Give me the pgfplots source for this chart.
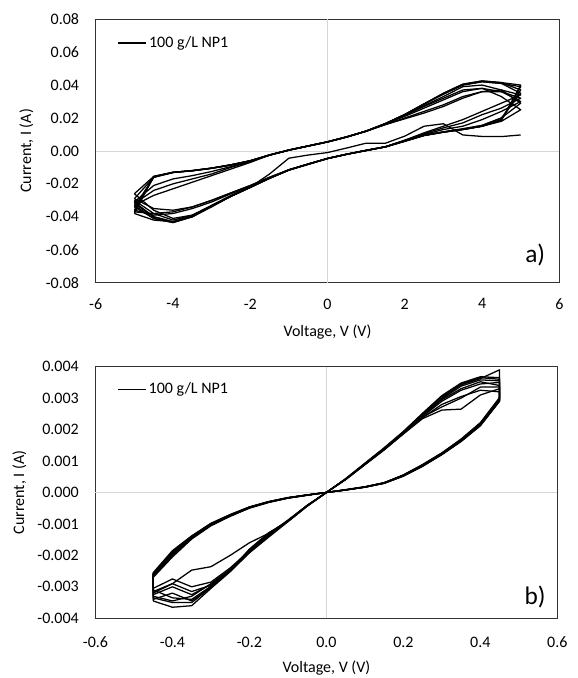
\documentclass[border=0pt]{standalone}
\usepackage{fontspec}
\setmainfont{Carlito}
\usepackage{pgfplots}
\usepackage{pgfplotstable}
\pgfplotsset{compat=1.18}

% panel a: cycles -5 -> 5 -> -5, one column per cycle
\pgfplotstableread{
V c1 c2 c3 c4 c5 c6 c7 c8 c9
-5 -0.0300 -0.0260 -0.0290 -0.0320 -0.0340 -0.0360 -0.0310 -0.0370 -0.0330
-4.5 -0.0380 -0.0360 -0.0350 -0.0400 -0.0410 -0.0390 -0.0400 -0.0380 -0.0410
-4 -0.0420 -0.0410 -0.0360 -0.0430 -0.0435 -0.0380 -0.0430 -0.0370 -0.0435
-3.5 -0.0390 -0.0390 -0.0340 -0.0395 -0.0400 -0.0350 -0.0400 -0.0340 -0.0400
-3 -0.0330 -0.0335 -0.0300 -0.0335 -0.0336 -0.0310 -0.0340 -0.0300 -0.0335
-2.5 -0.0270 -0.0275 -0.0255 -0.0275 -0.0276 -0.0260 -0.0275 -0.0255 -0.0275
-2 -0.0220 -0.0222 -0.0210 -0.0221 -0.0222 -0.0215 -0.0220 -0.0210 -0.0220
-1.5 -0.0165 -0.0167 -0.0160 -0.0166 -0.0166 -0.0165 -0.0165 -0.0160 -0.0165
-1 -0.0115 -0.0117 -0.0114 -0.0116 -0.0116 -0.0115 -0.0115 -0.0115 -0.0115
-0.5 -0.0080 -0.0082 -0.0079 -0.0081 -0.0080 -0.0080 -0.0080 -0.0080 -0.0080
0 -0.0046 -0.0047 -0.0045 -0.0046 -0.0046 -0.0046 -0.0046 -0.0046 -0.0046
0.5 -0.0020 -0.0021 -0.0019 -0.0020 -0.0020 -0.0020 -0.0020 -0.0020 -0.0020
1 0.0003 0.0002 0.0004 0.0003 0.0003 0.0003 0.0003 0.0003 0.0003
1.5 0.0025 0.0024 0.0026 0.0025 0.0025 0.0025 0.0025 0.0025 0.0025
2 0.0060 0.0058 0.0065 0.0061 0.0060 0.0060 0.0060 0.0065 0.0060
2.5 0.0095 0.0093 0.0105 0.0096 0.0094 0.0100 0.0095 0.0110 0.0095
3 0.0115 0.0113 0.0140 0.0116 0.0114 0.0130 0.0115 0.0150 0.0115
3.5 0.0130 0.0132 0.0170 0.0135 0.0130 0.0150 0.0130 0.0190 0.0130
4 0.0150 0.0155 0.0220 0.0155 0.0150 0.0190 0.0150 0.0240 0.0150
4.5 0.0180 0.0200 0.0260 0.0200 0.0190 0.0240 0.0190 0.0290 0.0185
5 0.0250 0.0290 0.0320 0.0350 0.0370 0.0300 0.0390 0.0340 0.0400
4.5 0.0330 0.0370 0.0360 0.0410 0.0415 0.0360 0.0410 0.0370 0.0415
4 0.0380 0.0400 0.0360 0.0420 0.0425 0.0380 0.0420 0.0360 0.0425
3.5 0.0370 0.0390 0.0330 0.0400 0.0405 0.0360 0.0400 0.0320 0.0405
3 0.0320 0.0330 0.0280 0.0345 0.0350 0.0310 0.0345 0.0270 0.0350
2.5 0.0270 0.0275 0.0240 0.0285 0.0286 0.0260 0.0285 0.0230 0.0285
2 0.0215 0.0220 0.0200 0.0221 0.0222 0.0210 0.0220 0.0195 0.0220
1.5 0.0165 0.0167 0.0160 0.0166 0.0166 0.0165 0.0165 0.0160 0.0165
1 0.0120 0.0121 0.0119 0.0121 0.0120 0.0120 0.0120 0.0120 0.0120
0.5 0.0085 0.0086 0.0084 0.0086 0.0085 0.0085 0.0085 0.0085 0.0085
0 0.0055 0.0056 0.0054 0.0055 0.0055 0.0055 0.0055 0.0055 0.0055
-0.5 0.0030 0.0031 0.0029 0.0030 0.0030 0.0030 0.0030 0.0030 0.0030
-1 0.0005 0.0006 0.0004 0.0005 0.0005 0.0005 0.0005 0.0005 0.0005
-1.5 -0.0025 -0.0024 -0.0026 -0.0025 -0.0025 -0.0025 -0.0025 -0.0025 -0.0025
-2 -0.0060 -0.0059 -0.0065 -0.0061 -0.0060 -0.0065 -0.0060 -0.0070 -0.0060
-2.5 -0.0085 -0.0084 -0.0100 -0.0086 -0.0085 -0.0095 -0.0085 -0.0110 -0.0085
-3 -0.0105 -0.0104 -0.0140 -0.0106 -0.0105 -0.0125 -0.0105 -0.0150 -0.0105
-3.5 -0.0120 -0.0119 -0.0170 -0.0121 -0.0120 -0.0150 -0.0120 -0.0190 -0.0120
-4 -0.0130 -0.0131 -0.0200 -0.0131 -0.0130 -0.0170 -0.0130 -0.0230 -0.0130
-4.5 -0.0155 -0.0160 -0.0240 -0.0160 -0.0160 -0.0210 -0.0155 -0.0270 -0.0155
-5 -0.0260 -0.0290 -0.0320 -0.0340 -0.0360 -0.0310 -0.0370 -0.0330 -0.0380
}\cyclesA

% panel b: cycles -0.45 -> 0.45 -> -0.45
\pgfplotstableread{
V b1 b2 b3 b4 b5 b6 b7 b8 b9
-0.45 -0.00300 -0.00330 -0.00305 -0.00340 -0.00315 -0.00345 -0.00325 -0.00310 -0.00335
-0.45 -0.00262 -0.00255 -0.00258 -0.00265 -0.00260 -0.00270 -0.00258 -0.00262 -0.00268
-0.4 -0.00190 -0.00185 -0.00195 -0.00200 -0.00188 -0.00205 -0.00192 -0.00196 -0.00198
-0.35 -0.00140 -0.00138 -0.00142 -0.00145 -0.00139 -0.00148 -0.00141 -0.00143 -0.00144
-0.3 -0.00100 -0.00098 -0.00102 -0.00104 -0.00099 -0.00106 -0.00101 -0.00103 -0.00103
-0.25 -0.00072 -0.00070 -0.00073 -0.00074 -0.00071 -0.00076 -0.00072 -0.00073 -0.00074
-0.2 -0.00047 -0.00046 -0.00048 -0.00049 -0.00046 -0.00050 -0.00047 -0.00048 -0.00048
-0.15 -0.00030 -0.00029 -0.00030 -0.00031 -0.00029 -0.00032 -0.00030 -0.00030 -0.00031
-0.1 -0.00017 -0.00016 -0.00017 -0.00018 -0.00017 -0.00018 -0.00017 -0.00017 -0.00018
-0.05 -0.00008 -0.00008 -0.00008 -0.00009 -0.00008 -0.00009 -0.00008 -0.00008 -0.00008
0 0.00000 0.00000 0.00000 0.00000 0.00000 0.00000 0.00000 0.00000 0.00000
0.05 0.00008 0.00008 0.00008 0.00008 0.00009 0.00008 0.00009 0.00008 0.00008
0.1 0.00017 0.00018 0.00017 0.00017 0.00018 0.00017 0.00018 0.00017 0.00017
0.15 0.00030 0.00031 0.00029 0.00030 0.00031 0.00029 0.00031 0.00030 0.00030
0.2 0.00053 0.00055 0.00052 0.00054 0.00054 0.00052 0.00056 0.00053 0.00055
0.25 0.00085 0.00088 0.00083 0.00086 0.00086 0.00084 0.00089 0.00085 0.00087
0.3 0.00122 0.00125 0.00120 0.00124 0.00123 0.00121 0.00126 0.00122 0.00124
0.35 0.00165 0.00168 0.00162 0.00166 0.00165 0.00163 0.00170 0.00164 0.00167
0.4 0.00215 0.00220 0.00212 0.00218 0.00216 0.00213 0.00222 0.00214 0.00219
0.45 0.00292 0.00300 0.00290 0.00296 0.00294 0.00291 0.00302 0.00293 0.00298
0.45 0.00340 0.00360 0.00330 0.00350 0.00390 0.00320 0.00365 0.00335 0.00355
0.4 0.00352 0.00365 0.00310 0.00345 0.00362 0.00325 0.00368 0.00335 0.00358
0.35 0.00330 0.00345 0.00265 0.00325 0.00342 0.00305 0.00348 0.00300 0.00338
0.3 0.00295 0.00300 0.00262 0.00290 0.00305 0.00280 0.00308 0.00272 0.00298
0.25 0.00245 0.00248 0.00235 0.00242 0.00250 0.00238 0.00252 0.00240 0.00246
0.2 0.00190 0.00192 0.00186 0.00189 0.00193 0.00187 0.00194 0.00188 0.00191
0.15 0.00138 0.00140 0.00135 0.00137 0.00141 0.00136 0.00142 0.00137 0.00139
0.1 0.00090 0.00092 0.00088 0.00090 0.00092 0.00089 0.00093 0.00089 0.00091
0.05 0.00042 0.00043 0.00041 0.00042 0.00043 0.00041 0.00044 0.00042 0.00042
0 0.00000 0.00000 0.00000 0.00000 0.00000 0.00000 0.00000 0.00000 0.00000
-0.05 -0.00042 -0.00043 -0.00041 -0.00042 -0.00044 -0.00041 -0.00043 -0.00042 -0.00042
-0.1 -0.00090 -0.00092 -0.00088 -0.00091 -0.00093 -0.00089 -0.00092 -0.00090 -0.00090
-0.15 -0.00138 -0.00135 -0.00132 -0.00140 -0.00142 -0.00136 -0.00128 -0.00139 -0.00130
-0.2 -0.00188 -0.00185 -0.00182 -0.00190 -0.00192 -0.00186 -0.00180 -0.00189 -0.00160
-0.25 -0.00245 -0.00240 -0.00250 -0.00248 -0.00252 -0.00245 -0.00248 -0.00250 -0.00200
-0.3 -0.00290 -0.00285 -0.00300 -0.00295 -0.00305 -0.00292 -0.00298 -0.00302 -0.00236
-0.35 -0.00330 -0.00300 -0.00345 -0.00315 -0.00360 -0.00325 -0.00340 -0.00350 -0.00247
-0.4 -0.00345 -0.00275 -0.00320 -0.00290 -0.00365 -0.00300 -0.00335 -0.00350 -0.00290
-0.45 -0.00330 -0.00305 -0.00340 -0.00315 -0.00345 -0.00325 -0.00310 -0.00335 -0.00320
}\cyclesB

\pgfplotsset{
  ivline/.style={black, line width=0.95pt, mark=none, line join=round},
  ivpanel/.style={
    scale only axis,
    /pgf/number format/assume math mode=true,
    scaled ticks=false,
    axis line style={black!80, line width=0.6pt},
    major tick length=0pt,
    tick label style={font=\fontsize{12}{14}\selectfont},
    yticklabel style={xshift=-9pt},
    every axis x label/.style={at={(axis description cs:0.5,0)}, anchor=center,
      font=\fontsize{12}{14}\selectfont},
    every axis y label/.style={at={(axis description cs:0,0.5)}, rotate=90, anchor=center,
      font=\fontsize{12}{14}\selectfont},
    extra x ticks={0}, extra y ticks={0},
    extra x tick labels={}, extra y tick labels={},
    extra tick style={grid=major, major grid style={black!16, line width=0.6pt}},
    legend style={draw=none, fill=none, inner sep=0pt, font=\fontsize{12}{14}\selectfont,
      at={(0.047,0.91)}, anchor=west, nodes={inner sep=1.5pt}},
    legend image code/.code={\draw[#1] (0pt,0pt) -- (21pt,0pt);},
    xlabel={Voltage, V (V)},
    ylabel={Current, I (A)},
  }
}

\begin{document}
\begin{tikzpicture}
\useasboundingbox (0,0) rectangle (433.5pt,508.5pt);

\begin{axis}[ivpanel,
  at={(71.8pt,296.5pt)}, anchor=south west,
  width=347.7pt, height=197.6pt,
  xmin=-6, xmax=6, ymin=-0.08, ymax=0.08,
  xtick={-6,-4,...,6}, ytick={-0.08,-0.06,...,0.081},
  xticklabel style={yshift=-8.5pt},
  yticklabel style={/pgf/number format/.cd, fixed, fixed zerofill, precision=2},
  xlabel style={yshift=-37pt},
  ylabel style={yshift=52pt},
]
\addplot[ivline] table[x=V, y=c1] {\cyclesA};
\addlegendentry{100 g/L NP1}
\addplot[ivline, forget plot] table[x=V, y=c2] {\cyclesA};
\addplot[ivline, forget plot] table[x=V, y=c3] {\cyclesA};
\addplot[ivline, forget plot] table[x=V, y=c4] {\cyclesA};
\addplot[ivline, forget plot] table[x=V, y=c5] {\cyclesA};
\addplot[ivline, forget plot] table[x=V, y=c6] {\cyclesA};
\addplot[ivline, forget plot] table[x=V, y=c7] {\cyclesA};
\addplot[ivline, forget plot] table[x=V, y=c8] {\cyclesA};
\addplot[ivline, forget plot] table[x=V, y=c9] {\cyclesA};
% last sweep
\addplot[ivline, forget plot] coordinates {
(-5,-0.0380) (-4.5,-0.0420) (-4,-0.0430) (-3.5,-0.0395) (-3,-0.0335)
(-2.5,-0.0275) (-2,-0.0220) (-1.5,-0.0140) (-1,-0.0044) (-0.5,-0.0025)
(0,-0.0010) (0.5,0.0018) (1,0.0047) (1.5,0.0047) (2,0.0090) (2.5,0.0150)
(3,0.0165) (3.5,0.0097) (4,0.0088) (4.5,0.0087) (5,0.0097)
};
\node[font=\fontsize{19}{22}\selectfont] at (rel axis cs:0.948,0.105) {a)};
\end{axis}

\begin{axis}[ivpanel,
  at={(71.6pt,44.8pt)}, anchor=south west,
  width=346.4pt, height=188.7pt,
  xmin=-0.6, xmax=0.6, ymin=-0.004, ymax=0.004,
  xtick={-0.6,-0.4,...,0.61}, ytick={-0.004,-0.003,...,0.0041},
  xticklabel style={yshift=-10.5pt, /pgf/number format/.cd, fixed, fixed zerofill, precision=1},
  yticklabel style={/pgf/number format/.cd, fixed, fixed zerofill, precision=3},
  xlabel style={yshift=-37.5pt},
  ylabel style={yshift=57pt},
]
\addplot[ivline] table[x=V, y=b1] {\cyclesB};
\addlegendentry{100 g/L NP1}
\addplot[ivline, forget plot] table[x=V, y=b2] {\cyclesB};
\addplot[ivline, forget plot] table[x=V, y=b3] {\cyclesB};
\addplot[ivline, forget plot] table[x=V, y=b4] {\cyclesB};
\addplot[ivline, forget plot] table[x=V, y=b5] {\cyclesB};
\addplot[ivline, forget plot] table[x=V, y=b6] {\cyclesB};
\addplot[ivline, forget plot] table[x=V, y=b7] {\cyclesB};
\addplot[ivline, forget plot] table[x=V, y=b8] {\cyclesB};
\addplot[ivline, forget plot] table[x=V, y=b9] {\cyclesB};
\node[font=\fontsize{19}{22}\selectfont] at (rel axis cs:0.952,0.086) {b)};
\end{axis}
\end{tikzpicture}
\end{document}
